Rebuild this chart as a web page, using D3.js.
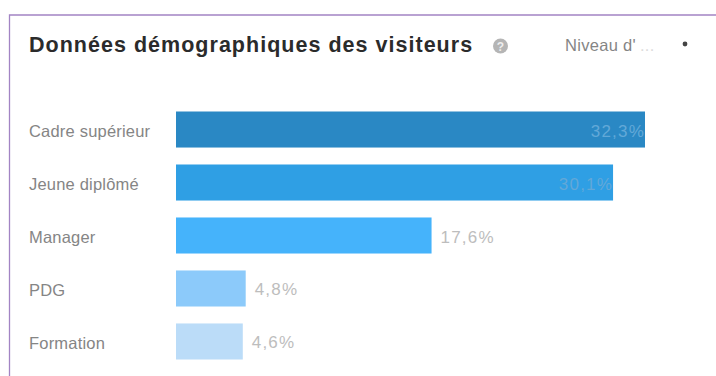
<!DOCTYPE html>
<html lang="fr">
<head>
<meta charset="utf-8">
<script src="https://cdnjs.cloudflare.com/ajax/libs/d3/7.8.5/d3.min.js"></script>
<style>
  html, body { margin: 0; padding: 0; background: #fff; }
  svg { display: block; font-family: "Liberation Sans", Arial, sans-serif; }
</style>
</head>
<body>
<svg id="chart" width="716" height="376"></svg>
<script>
const categories = ["Cadre supérieur", "Jeune diplômé", "Manager", "PDG", "Formation"];
const values = [32.3, 30.1, 17.6, 4.8, 4.6];
const valueLabels = ["32,3%", "30,1%", "17,6%", "4,8%", "4,6%"];
const barColors = ["#2a88c4", "#2f9fe4", "#45b3fb", "#8ccafa", "#bbdcf8"];
const titleText = "Données démographiques des visiteurs";
const dropdownText = "Niveau d'";

const svg = d3.select("#chart");

// Card outline: top and left edges are visible, the rest runs off the page
svg.append("path")
  .attr("d", "M9.5,376V15H716")
  .attr("fill", "none")
  .attr("stroke", "#a284c4")
  .attr("stroke-width", 1.3);

svg.append("text")
  .attr("x", 29).attr("y", 52)
  .attr("font-size", 21.5).attr("font-weight", 700)
  .attr("letter-spacing", 1.02)
  .attr("fill", "#2b2b2b")
  .text(titleText);

// Help badge next to the title
svg.append("circle")
  .attr("cx", 500.5).attr("cy", 46).attr("r", 7.5)
  .attr("fill", "#b5b5b5");
svg.append("text")
  .attr("x", 500.5).attr("y", 50.5)
  .attr("text-anchor", "middle")
  .attr("font-size", 12).attr("font-weight", 700)
  .attr("fill", "#eeeeee")
  .text("?");

// Dropdown label with its faded ellipsis, then the arrow
const dropdown = svg.append("text")
  .attr("x", 565).attr("y", 51)
  .attr("font-size", 16.5)
  .attr("letter-spacing", 0.3)
  .attr("fill", "#858585");
dropdown.append("tspan").text(dropdownText);
dropdown.append("tspan").attr("fill", "#dcdcdc").attr("dx", 4).text("...");
svg.append("circle")
  .attr("cx", 685).attr("cy", 44).attr("r", 2.4)
  .attr("fill", "#444");

const x = d3.scaleLinear().domain([0, 32.3]).range([176, 645]);
const y = d3.scaleBand().domain(categories).range([111.5, 359.5]).paddingInner(0.32).paddingOuter(0);

const rows = svg.selectAll("g.row")
  .data(categories.map((c, i) => ({ c, v: values[i], label: valueLabels[i], color: barColors[i] })))
  .join("g")
  .attr("class", "row");

rows.append("rect")
  .attr("x", x(0))
  .attr("y", d => y(d.c))
  .attr("width", d => x(d.v) - x(0))
  .attr("height", y.bandwidth())
  .attr("fill", d => d.color);

rows.append("text")
  .attr("x", 29)
  .attr("y", d => y(d.c) + y.bandwidth() / 2 + 7.5)
  .attr("font-size", 16.5)
  .attr("letter-spacing", 0.2)
  .attr("fill", "#858585")
  .text(d => d.c);

// Long bars carry their value inside the end of the bar, short ones just outside
rows.append("text")
  .attr("x", d => d.v > 20 ? x(d.v) : x(d.v) + 9)
  .attr("y", d => y(d.c) + y.bandwidth() / 2 + 7)
  .attr("text-anchor", d => d.v > 20 ? "end" : "start")
  .attr("font-size", 17)
  .attr("letter-spacing", 1.2)
  .attr("fill", d => d.v > 20 ? "#62a8d8" : "#bdbdbd")
  .text(d => d.label);
</script>
</body>
</html>
